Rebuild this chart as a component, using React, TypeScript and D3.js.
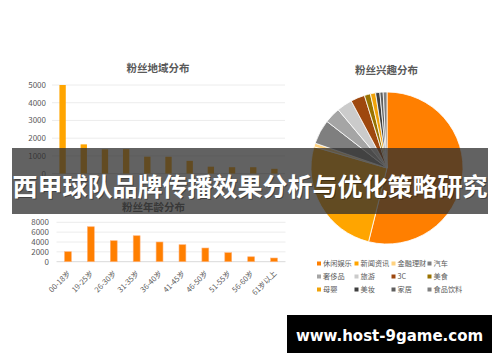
import React from "react";
import * as d3 from "d3";

const regionCats = ["广东", "北京", "上海", "浙江", "江苏", "山东", "四川", "湖北", "河南", "福建", "湖南"];
const regionVals = [5000, 1650, 1370, 1380, 955, 950, 720, 390, 360, 360, 270];
const regionTicks = [0, 1000, 2000, 3000, 4000, 5000];

const ageCats = ["00-18岁", "19-25岁", "26-30岁", "31-35岁", "36-40岁", "41-45岁", "46-50岁", "51-55岁", "56-60岁", "61岁以上"];
const ageVals = [2030, 7100, 4260, 5270, 4000, 3450, 2780, 1830, 1000, 750];
const ageTicks = [0, 2000, 4000, 6000, 8000];

const interestCats = ["休闲娱乐", "新闻资讯", "金融理财", "汽车", "奢侈品", "旅游", "3C", "美食", "母婴", "美妆", "家居", "食品饮料"];
const interestVals = [53.9, 25.6, 0.8, 5.2, 3.4, 3.3, 3.0, 1.3, 1.1, 0.9, 0.7, 0.8];
const interestColors = ["#FF7F00", "#FFA500", "#FFD27F", "#7F7F7F", "#A5A5A5", "#CBCBCB", "#9E480E", "#997300", "#F0A30A", "#3F3F3F", "#5F5F5F", "#808080"];

const mainTitle = "西甲球队品牌传播效果分析与优化策略研究";
const watermark = "www.host-9game.com";

const FONT = "'Noto Sans CJK SC', 'Noto Sans', sans-serif";
const GRAY = "#595959";

export default function App() {
  const rx = d3.scaleBand<string>().domain(regionCats).range([52, 285]).paddingInner(0.7).paddingOuter(0.35);
  const ry = d3.scaleLinear().domain([0, 5000]).range([173.6, 85]);

  const ax = d3.scaleBand<string>().domain(ageCats).range([56.5, 285.5]).paddingInner(0.7).paddingOuter(0.35);
  const ay = d3.scaleLinear().domain([0, 8000]).range([261.7, 222.3]);

  const pie = d3.pie<number>().sort(null).value((d) => d)(interestVals);
  const arc = d3.arc<d3.PieArcDatum<number>>().innerRadius(0).outerRadius(76);
  const cx = 387, cy = 168;

  const legX = [317, 354.5, 391.5, 427.5];
  const legY = [263.5, 276.5, 289.5];

  return (
    <svg width={500} height={362} style={{ position: "absolute", left: 0, top: 0, background: "#fff" }} fontFamily={FONT}>
      <rect x={0} y={0} width={500} height={362} fill="#fff" />
      {/* Region chart */}
      <text x={158} y={72} textAnchor="middle" fontSize={10.5} fontWeight="bold" fill={GRAY}>粉丝地域分布</text>
      {regionTicks.map((t) => (
        <g key={"rt" + t}>
          <line x1={52} x2={285} y1={ry(t)} y2={ry(t)} stroke={t === 0 ? "#d9d9d9" : "#ececec"} strokeWidth={1} />
          <text x={46} y={ry(t) + 3} textAnchor="end" fontSize={8} fill={GRAY}>{t}</text>
        </g>
      ))}
      {regionCats.map((c, i) => (
        <rect key={"rb" + c} x={rx(c)!} width={rx.bandwidth()} y={ry(regionVals[i])} height={ry(0) - ry(regionVals[i])} fill="#FFA500" />
      ))}

      {/* Age chart */}
      <text x={153.5} y={210.5} textAnchor="middle" fontSize={10.5} fontWeight="bold" fill={GRAY}>粉丝年龄分布</text>
      {ageTicks.map((t) => (
        <g key={"at" + t}>
          <line x1={56.5} x2={285.5} y1={ay(t)} y2={ay(t)} stroke={t === 0 ? "#d9d9d9" : "#ececec"} strokeWidth={1} />
          <text x={49} y={ay(t) + 3} textAnchor="end" fontSize={8} fill={GRAY}>{t}</text>
        </g>
      ))}
      {ageCats.map((c, i) => (
        <rect key={"ab" + c} x={ax(c)!} width={ax.bandwidth()} y={ay(ageVals[i])} height={ay(0) - ay(ageVals[i])} fill="#FF7F00" stroke="#FFB27A" strokeWidth={0.6} />
      ))}
      {ageCats.map((c) => (
        <text key={"al" + c} transform={`translate(${ax(c)! + ax.bandwidth() / 2 + 3},${274}) rotate(-45)`} textAnchor="end" fontSize={7.5} fill={GRAY}>{c}</text>
      ))}

      {/* Pie chart */}
      <text x={386.5} y={74} textAnchor="middle" fontSize={10.5} fontWeight="bold" fill={GRAY}>粉丝兴趣分布</text>
      <g transform={`translate(${cx},${cy})`}>
        {pie.map((p, i) => (
          <path key={"p" + i} d={arc(p)!} fill={interestColors[i]} stroke="#fff" strokeWidth={0.8} />
        ))}
      </g>
      {interestCats.map((c, i) => {
        const x = legX[i % 4];
        const y = legY[Math.floor(i / 4)];
        return (
          <g key={"lg" + c}>
            <rect x={x} y={y - 2} width={4} height={4} fill={interestColors[i]} />
            <text x={x + 6} y={y + 2.8} fontSize={7.2} fill={GRAY}>{c}</text>
          </g>
        );
      })}

      {/* Overlay band with title */}
      <rect x={12} y={148} width={476} height={66} fill="rgb(45,45,45)" fillOpacity={0.75} />
      <text x={251} y={196.5} textAnchor="middle" fontSize={25} fontWeight="bold" fill="#000" fillOpacity={0.35}>{mainTitle}</text>
      <text x={250} y={195.5} textAnchor="middle" fontSize={25} fontWeight="bold" fill="#fff">{mainTitle}</text>

      {/* Watermark */}
      <rect x={287} y={315} width={205} height={38} fill="#000" />
      <text x={389.5} y={341} textAnchor="middle" fontSize={15} fontWeight="bold" fill="#fff" fontFamily="'DejaVu Sans', sans-serif">{watermark}</text>
    </svg>
  );
}
